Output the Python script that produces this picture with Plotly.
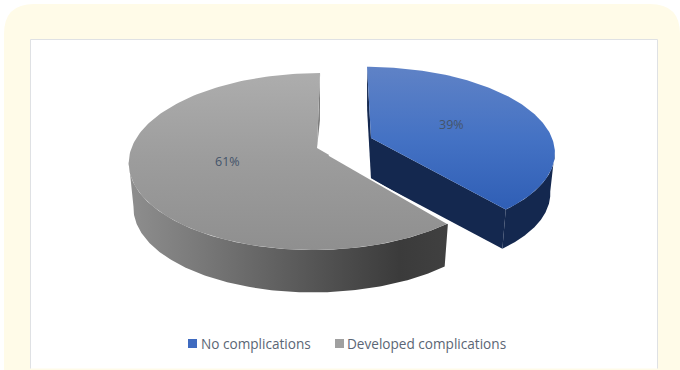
import numpy as np
import plotly.graph_objects as go

# Chart values
categories = ["No complications", "Developed complications"]
shares = [39, 61]
share_labels = ["39%", "61%"]

W, H = 680, 370

# Projection of each exploded slice: apex, radii, skew and perspective
PERSPECTIVE = 0.1525
BLUE = dict(x=371, y=138, a=181, b=82, c=-4.6)
GRAY = dict(x=317, y=148, a=185.5, b=86.4, c=3.5)
BLUE_DEPTH = 41
GRAY_DEPTH = 45
FLOOR_SCALE = 0.975
# Angular offset of the silhouette point caused by the perspective term
SILHOUETTE = np.arcsin(PERSPECTIVE)


def project(theta, s, drop=0.0, scale=1.0):
    """Map clockwise-from-north angles onto the tilted pie plane."""
    px, py = np.sin(theta), np.cos(theta)
    d = 1 + PERSPECTIVE * py
    x = s["x"] + scale * (s["a"] * px + s["c"] * py) / d
    y = s["y"] + drop - scale * s["b"] * py / d
    return x, y


def arc(start, end, s, drop=0.0, scale=1.0, n=160):
    return project(np.linspace(start, end, n), s, drop, scale)


def apex(s, drop=0.0):
    return s["x"], s["y"] + drop


def poly(fig, xs, ys, color=None, gradient=None):
    kw = dict(fill="toself", mode="lines", hoverinfo="skip", showlegend=False,
              line=dict(width=0, color="rgba(0,0,0,0)"))
    if gradient:
        kw["fillgradient"] = gradient
    else:
        kw["fillcolor"] = color
    fig.add_trace(go.Scatter(x=list(xs), y=list(ys), **kw))


def vgrad(stops, y0, y1):
    return dict(type="vertical", start=y0, stop=y1,
                colorscale=[[i / (len(stops) - 1), c] for i, c in enumerate(stops)])


def hgrad(stops, x0, x1):
    return dict(type="horizontal", start=x0, stop=x1,
                colorscale=[[p, c] for p, c in stops])


fig = go.Figure()

split = 2 * np.pi * shares[0] / sum(shares)
NAVY = "#14284f"

# First slice: cut faces, outer wall, then the top face
tx, ty = arc(0, split, BLUE)
bx, by = arc(0, split, BLUE, BLUE_DEPTH, FLOOR_SCALE)
ax0, ay0 = apex(BLUE)
ax1, ay1 = apex(BLUE, BLUE_DEPTH)
poly(fig, [ax0, tx[0], bx[0], ax1], [ay0, ty[0], by[0], ay1], NAVY)
poly(fig, [ax0, tx[-1], bx[-1], ax1], [ay0, ty[-1], by[-1], ay1], NAVY)
wx, wy = arc(np.pi / 2 + SILHOUETTE, split, BLUE)
fx, fy = arc(np.pi / 2 + SILHOUETTE, split, BLUE, BLUE_DEPTH, FLOOR_SCALE)
poly(fig, np.r_[wx, fx[::-1]], np.r_[wy, fy[::-1]], NAVY)
poly(fig, np.r_[ax0, tx], np.r_[ay0, ty],
     gradient=vgrad(["#5f82c6", "#4472c4", "#2f5eb5"], 67, 211))

# Second slice: thin sliver at the vertical cut, outer wall, top face
tx, ty = arc(split, 2 * np.pi, GRAY)
bx, by = arc(split, 2 * np.pi, GRAY, GRAY_DEPTH, FLOOR_SCALE)
ax0, ay0 = apex(GRAY)
poly(fig, [ax0, tx[-1], bx[-1]], [ay0, ty[-1], by[-1]], "#7c7c7c")
wx, wy = arc(split, 1.5 * np.pi - SILHOUETTE, GRAY)
fx, fy = arc(split, 1.5 * np.pi - SILHOUETTE, GRAY, GRAY_DEPTH, FLOOR_SCALE)
poly(fig, np.r_[wx, fx[::-1]], np.r_[wy, fy[::-1]],
     gradient=hgrad([[0, "#8e8e8e"], [0.2, "#7b7b7b"], [0.55, "#585858"],
                     [0.85, "#3b3b3b"], [1, "#404040"]], 130, 447))
poly(fig, np.r_[ax0, tx], np.r_[ay0, ty],
     gradient=vgrad(["#adadad", "#9c9c9c", "#8f8f8f"], 73, 250))

# Light edge along the cut that faces the first slice
fig.add_trace(go.Scatter(x=[ax0 + 12, tx[0]], y=[ay0 + 7, ty[0]], mode="lines",
                         hoverinfo="skip", showlegend=False,
                         line=dict(color="white", width=1.6)))

# Rounded backing card and the white chart panel
card = "M4,370 L4,34 Q4,4 34,4 L650,4 Q680,4 680,34 L680,370 Z"
fig.update_layout(
    width=W, height=H, margin=dict(l=0, r=0, t=0, b=0),
    paper_bgcolor="white", plot_bgcolor="white", showlegend=False,
    xaxis=dict(range=[0, W], visible=False, fixedrange=True),
    yaxis=dict(range=[H, 0], visible=False, fixedrange=True),
    shapes=[
        dict(type="path", path=card, fillcolor="#fffbe8", line=dict(width=0), layer="below"),
        dict(type="rect", x0=30.5, x1=657.5, y0=39.5, y1=368.5, fillcolor="white",
             line=dict(width=0), layer="below"),
        dict(type="path", path="M30.5,368.5 L30.5,39.5 L657.5,39.5 L657.5,368.5",
             line=dict(color="#dfe1e4", width=1), layer="below"),
        dict(type="rect", x0=188, x1=197, y0=339, y1=348, fillcolor="#3f6bc0",
             line=dict(width=0)),
        dict(type="rect", x0=335, x1=344, y0=339, y1=348, fillcolor="#a0a0a0",
             line=dict(width=0)),
    ],
)

# Percentage labels on the slices
for txt, (x, y) in zip(share_labels, [(451, 124.5), (227, 161.5)]):
    fig.add_annotation(x=x, y=y, text=txt, showarrow=False,
                       font=dict(family="Open Sans", size=12.5, color="#44546a"))

# Legend entries
for name, x in zip(categories, [199, 345]):
    fig.add_annotation(x=x, y=343, text=name, showarrow=False, xanchor="left",
                       font=dict(family="Open Sans", size=13.6, color="#5b6675"))

fig.write_html("out.html", config=dict(displayModeBar=False))
